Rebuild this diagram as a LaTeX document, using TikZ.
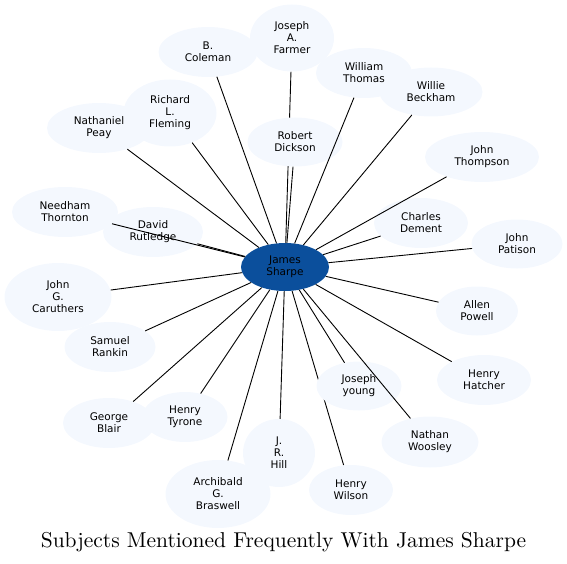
\documentclass[tikz,border=0pt]{standalone}
\usepackage{fontspec}
\newfontfamily\nodefont{DejaVu Sans}
\newfontfamily\titlefont{lmroman10-regular.otf}
\usetikzlibrary{shapes.geometric}
\pgfdeclarelayer{bg}
\pgfsetlayers{bg,main}
\definecolor{leaffill}{HTML}{F4F8FE}
\definecolor{hubfill}{HTML}{0B4F9C}
\begin{document}
\begin{tikzpicture}[x=1pt,y=-1pt,
  leaf/.style={ellipse, fill=leaffill, inner sep=0pt, align=center, text=black,
    font=\nodefont\fontsize{10.5}{12}\selectfont},
  hub/.style={ellipse, fill=hubfill, inner sep=0pt, align=center, text=black,
    font=\nodefont\fontsize{10.5}{12}\selectfont},
  link/.style={line width=0.9pt, black}]
\useasboundingbox (0,0) rectangle (567,564);
% hub
\node[hub, minimum width=88pt, minimum height=48pt] (js) at (285,267) {James\\Sharpe};
% leaves
\node[leaf, minimum width=99pt, minimum height=50pt] (bc) at (208,52) {B.\\Coleman};
\node[leaf, minimum width=84pt, minimum height=67pt] (jf) at (292,38) {Joseph\\A.\\Farmer};
\node[leaf, minimum width=104pt, minimum height=50pt] (np) at (99,128) {Nathaniel\\Peay};
\node[leaf, minimum width=93pt, minimum height=67pt] (rf) at (170,113) {Richard\\L.\\Fleming};
\node[leaf, minimum width=95pt, minimum height=49pt] (rd) at (295,142) {Robert\\Dickson};
\node[leaf, minimum width=106pt, minimum height=50pt] (nt) at (65,212) {Needham\\Thornton};
\node[leaf, minimum width=100pt, minimum height=50pt] (dr) at (153,232) {David\\Rutledge};
\node[leaf, minimum width=96pt, minimum height=50pt] (wt) at (364,73) {William\\Thomas};
\node[leaf, minimum width=103pt, minimum height=49pt] (wb) at (431,92) {Willie\\Beckham};
\node[leaf, minimum width=114pt, minimum height=50pt] (jt) at (482,157) {John\\Thompson};
\node[leaf, minimum width=94pt, minimum height=50pt] (cd) at (421,223) {Charles\\Dement};
\node[leaf, minimum width=91pt, minimum height=49pt] (jp) at (517,244) {John\\Patison};
\node[leaf, minimum width=107pt, minimum height=68pt] (jc) at (58,297) {John\\G.\\Caruthers};
\node[leaf, minimum width=91pt, minimum height=50pt] (sr) at (110,347) {Samuel\\Rankin};
\node[leaf, minimum width=92pt, minimum height=50pt] (gb) at (109,423) {George\\Blair};
\node[leaf, minimum width=85pt, minimum height=50pt] (ht) at (185,417) {Henry\\Tyrone};
\node[leaf, minimum width=72pt, minimum height=68pt] (jh) at (279,453) {J.\\R.\\Hill};
\node[leaf, minimum width=105pt, minimum height=68pt] (ab) at (218,494) {Archibald\\G.\\Braswell};
\node[leaf, minimum width=82pt, minimum height=49pt] (ap) at (477,311) {Allen\\Powell};
\node[leaf, minimum width=94pt, minimum height=50pt] (hh) at (484,380) {Henry\\Hatcher};
\node[leaf, minimum width=85pt, minimum height=49pt] (jy) at (359,386) {Joseph\\young};
\node[leaf, minimum width=97pt, minimum height=51pt] (nw) at (430,442) {Nathan\\Woosley};
\node[leaf, minimum width=84pt, minimum height=50pt] (hw) at (351,490) {Henry\\Wilson};
% edges passing under other nodes
\begin{pgfonlayer}{bg}
\draw[link] (js) -- (jf);
\draw[link] (js) -- (hw);
\end{pgfonlayer}
% edges on top
\foreach \t in {bc,np,rf,rd,nt,dr,wt,wb,jt,cd,jp,jc,sr,gb,ht,jh,ab,ap,hh,jy,nw}
  \draw[link] (js) -- (\t);
% title
\node (title) at (283.5,542) {\titlefont\fontsize{21.5}{26}\selectfont Subjects Mentioned Frequently With James Sharpe};
\end{tikzpicture}
\end{document}
